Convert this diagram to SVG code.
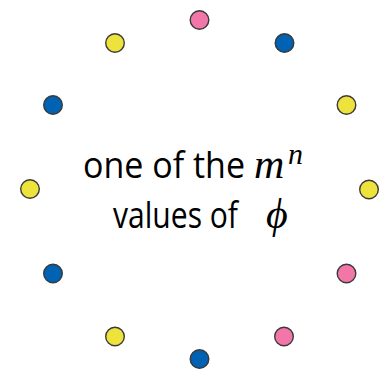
<svg xmlns="http://www.w3.org/2000/svg" width="384" height="370" viewBox="0 0 384 370">
<style>
.dot{stroke:#3a3a3a;stroke-width:1.4}
.p{fill:#F277A8}
.y{fill:#EEE23C}
.b{fill:#0062B2}
.t{font-family:"Open Sans","Liberation Sans",sans-serif;font-size:37px;fill:#000}
.m{font-family:"Liberation Serif","Times New Roman",serif;font-style:italic;fill:#000}
</style>
<rect width="384" height="370" fill="#fff"/>
<g id="dots">
<circle id="d0" class="dot p" cx="199.5" cy="20" r="9.3"/>
<circle id="d1" class="dot b" cx="284.5" cy="43" r="9.3"/>
<circle id="d2" class="dot y" cx="346.5" cy="105" r="9.3"/>
<circle id="d3" class="dot y" cx="369" cy="189.5" r="9.3"/>
<circle id="d4" class="dot p" cx="346.5" cy="273.5" r="9.3"/>
<circle id="d5" class="dot p" cx="284" cy="336.5" r="9.3"/>
<circle id="d6" class="dot b" cx="199.5" cy="359" r="9.3"/>
<circle id="d7" class="dot y" cx="115" cy="336.5" r="9.3"/>
<circle id="d8" class="dot b" cx="53" cy="273.5" r="9.3"/>
<circle id="d9" class="dot y" cx="30" cy="189" r="9.3"/>
<circle id="d10" class="dot b" cx="53" cy="105" r="9.3"/>
<circle id="d11" class="dot y" cx="115" cy="43" r="9.3"/>
</g>
<g id="label">
<text class="t" x="83" y="178" textLength="162" lengthAdjust="spacingAndGlyphs">one of the</text>
<text class="m" x="254" y="178" font-size="42">m</text>
<text class="m" x="288" y="164" font-size="30">n</text>
<text class="t" x="113" y="228" textLength="125" lengthAdjust="spacingAndGlyphs">values of</text>
<text class="m" x="266" y="228" font-size="42">ϕ</text>
</g>
</svg>
